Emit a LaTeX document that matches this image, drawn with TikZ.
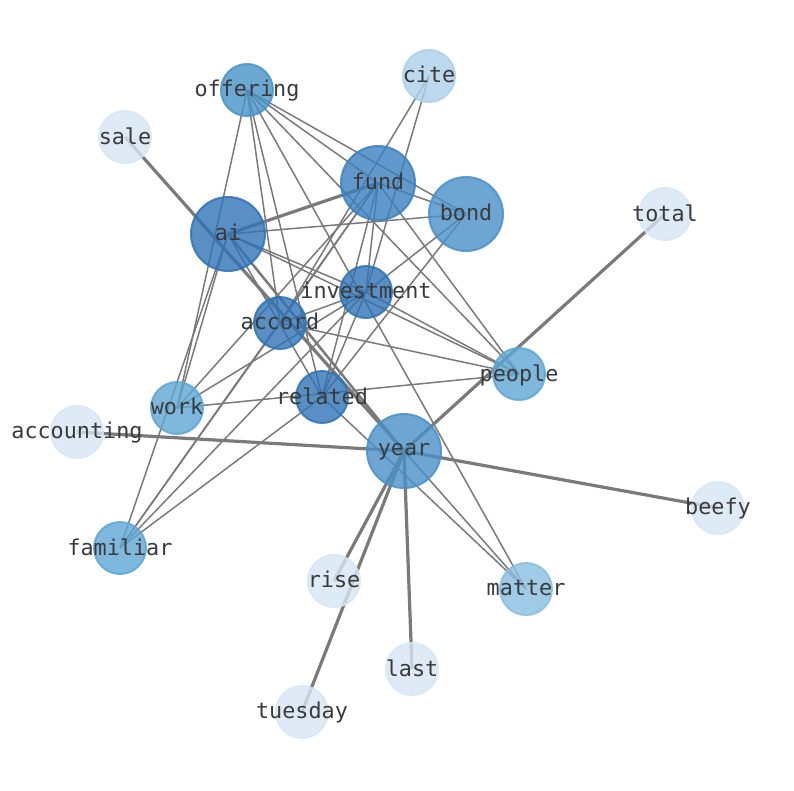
\documentclass[tikz,border=0pt]{standalone}
\usepackage{fontspec}
\newfontfamily\monof{DejaVu Sans Mono}
\definecolor{cdk}{HTML}{2F73B5}
\definecolor{cfu}{HTML}{3B80BF}
\definecolor{cbd}{HTML}{4A90C8}
\definecolor{cof}{HTML}{4693C8}
\definecolor{cmd}{HTML}{5FA6D4}
\definecolor{cmt}{HTML}{88BEE0}
\definecolor{cct}{HTML}{ABD0E9}
\definecolor{clt}{HTML}{D6E6F4}
\definecolor{edgec}{HTML}{7A7A7A}
\definecolor{txt}{HTML}{3A3A3A}
\tikzset{
  thin edge/.style={draw=edgec, line width=1.5pt},
  thick edge/.style={draw=edgec, line width=3.2pt},
  mid edge/.style={draw=edgec, line width=2.5pt},
  bub/.style={circle, inner sep=0pt, line width=2pt, fill opacity=0.8, draw opacity=0.85, text opacity=1},
  big/.style={bub, minimum size=74pt},
  small/.style={bub, minimum size=52pt},
  lab/.style={text=txt, font=\monof\fontsize{21.8}{24}\selectfont, anchor=center, inner sep=0pt}
}
\begin{document}
\begin{tikzpicture}[x=1pt,y=-1pt]
\useasboundingbox (0,0) rectangle (794,790);
\coordinate (offering) at (247,90);
\coordinate (cite) at (429,76);
\coordinate (sale) at (125,137);
\coordinate (fund) at (378,183);
\coordinate (bond) at (466,214);
\coordinate (ai) at (228,234);
\coordinate (total) at (665,214);
\coordinate (investment) at (366,292);
\coordinate (accord) at (280,323);
\coordinate (people) at (519,374);
\coordinate (work) at (177,408);
\coordinate (related) at (322,397);
\coordinate (accounting) at (77,432);
\coordinate (year) at (404,451);
\coordinate (beefy) at (718,508);
\coordinate (familiar) at (120,548);
\coordinate (rise) at (334,581);
\coordinate (matter) at (526,589);
\coordinate (last) at (412,669);
\coordinate (tuesday) at (302,712);
% thin edges
\foreach \a/\b in {offering/fund, offering/bond, offering/people, offering/work, offering/accord, offering/related, offering/matter,
  cite/accord, cite/investment,
  fund/investment, fund/related, fund/accord, fund/familiar, fund/work, fund/people, fund/bond,
  ai/bond, ai/investment, ai/people, ai/work, ai/familiar, ai/related,
  bond/investment, bond/related,
  investment/accord, investment/work, investment/people, investment/related, investment/familiar,
  accord/people, accord/familiar, related/familiar,
  work/people, related/matter, year/matter}
  \draw[thin edge] (\a) -- (\b);
% thick edges
\foreach \a/\b in {sale/year, total/year, accounting/year, beefy/year, rise/year, tuesday/year, last/year, ai/fund}
  \draw[thick edge] (\a) -- (\b);
\draw[mid edge] (ai) -- (year);
% nodes
\node[big, fill=cdk, draw=cdk] (ai-n) at (ai) {};
\node[big, fill=cfu, draw=cfu] (fund-n) at (fund) {};
\node[big, fill=cbd, draw=cbd] (bond-n) at (bond) {};
\node[big, fill=cbd, draw=cbd] (year-n) at (year) {};
\node[small, fill=cdk, draw=cdk] (investment-n) at (investment) {};
\node[small, fill=cdk, draw=cdk] (accord-n) at (accord) {};
\node[small, fill=cdk, draw=cdk] (related-n) at (related) {};
\node[small, fill=cof, draw=cof] (offering-n) at (offering) {};
\node[small, fill=cmd, draw=cmd] (people-n) at (people) {};
\node[small, fill=cmd, draw=cmd] (work-n) at (work) {};
\node[small, fill=cmd, draw=cmd] (familiar-n) at (familiar) {};
\node[small, fill=cmt, draw=cmt] (matter-n) at (matter) {};
\node[small, fill=cct, draw=cct] (cite-n) at (cite) {};
\node[small, fill=clt, draw=clt] (sale-n) at (sale) {};
\node[small, fill=clt, draw=clt] (total-n) at (total) {};
\node[small, fill=clt, draw=clt] (accounting-n) at (accounting) {};
\node[small, fill=clt, draw=clt] (beefy-n) at (beefy) {};
\node[small, fill=clt, draw=clt] (rise-n) at (rise) {};
\node[small, fill=clt, draw=clt] (last-n) at (last) {};
\node[small, fill=clt, draw=clt] (tuesday-n) at (tuesday) {};
% labels
\foreach \n in {offering, cite, sale, fund, bond, ai, total, investment, accord, people, work, related, accounting, year, beefy, familiar, rise, matter, last, tuesday}
  \node[lab, yshift=-1pt] (\n-t) at (\n) {\vphantom{g}\n};
\end{tikzpicture}
\end{document}
